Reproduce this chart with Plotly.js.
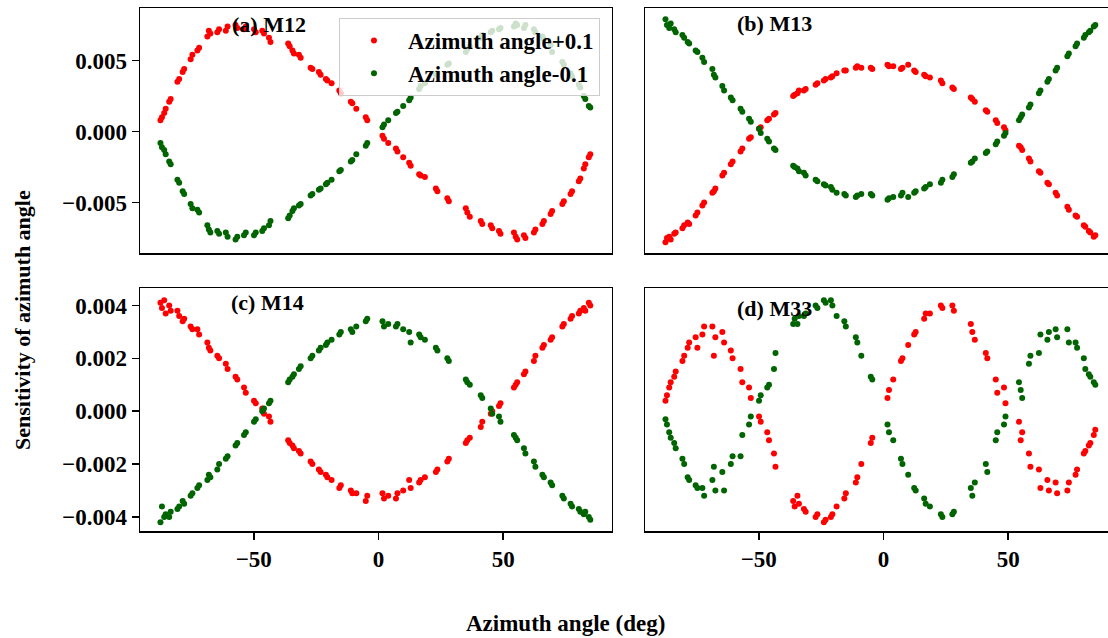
<!DOCTYPE html>
<html>
<head>
<meta charset="utf-8">
<script src="https://cdn.plot.ly/plotly-3.0.1.min.js"></script>
<style>
html, body { margin: 0; padding: 0; overflow: hidden; background: #ffffff; }
#chart { width: 1120px; height: 638px; }
</style>
</head>
<body>
<div id="chart"></div>
<script>
// Azimuth angle samples (deg), shared by all panels
const azimuth = [
  -87.4,-86.8,-85.9,-85.3,-83.9,-83.3,-80.6,-79.9,-78.5,-77.9,-75.3,-74.6,
  -72.6,-71.9,-68.6,-68.0,-67.4,-64.6,-63.9,-61.2,-60.5,-57.3,-56.6,-53.9,
  -53.2,-49.9,-49.2,-46.6,-45.9,-43.9,-43.3,-36.2,-35.6,-34.5,-33.9,-31.9,
  -31.2,-27.2,-26.5,-23.9,-23.2,-21.1,-20.5,-18.8,-15.7,-15.1,-11.1,-10.5,
  -8.9,-5.1,-4.5,1.6,2.2,3.9,7.0,7.6,9.9,12.3,12.9,16.3,
  16.9,18.6,23.0,23.6,27.6,28.2,35.0,35.6,36.6,41.0,41.6,45.0,
  45.6,48.3,48.9,54.3,55.0,55.6,58.3,58.9,62.3,62.9,65.7,66.3,
  69.0,69.6,73.7,74.3,77.0,77.6,80.3,80.9,82.3,82.9,84.3,84.9
];

// (a) M12
const m12_plus = [
  0.0008,0.0010,0.0013,0.0016,0.0021,0.0023,0.0035,0.0037,0.0042,0.0044,0.0051,0.0054,
  0.0057,0.0059,0.0067,0.0071,0.0069,0.0070,0.0072,0.0071,0.0074,0.0075,0.0073,0.0072,
  0.0074,0.0072,0.0070,0.0071,0.0069,0.0066,0.0063,0.0062,0.0060,0.0057,0.0055,0.0054,
  0.0052,0.0045,0.0044,0.0042,0.0040,0.0037,0.0036,0.0034,0.0029,0.0027,0.0021,0.0020,
  0.0016,0.0010,0.0008,-0.0003,-0.0005,-0.0008,-0.0012,-0.0014,-0.0018,-0.0022,-0.0024,-0.0030,
  -0.0031,-0.0032,-0.0040,-0.0042,-0.0047,-0.0049,-0.0054,-0.0057,-0.0060,-0.0063,-0.0065,-0.0066,
  -0.0068,-0.0070,-0.0072,-0.0071,-0.0074,-0.0076,-0.0073,-0.0075,-0.0071,-0.0069,-0.0065,-0.0063,
  -0.0058,-0.0056,-0.0051,-0.0049,-0.0044,-0.0042,-0.0035,-0.0033,-0.0026,-0.0023,-0.0018,-0.0016
];
const m12_minus = [
  -0.0008,-0.0011,-0.0013,-0.0016,-0.0021,-0.0023,-0.0034,-0.0036,-0.0042,-0.0044,-0.0051,-0.0054,
  -0.0055,-0.0057,-0.0066,-0.0069,-0.0071,-0.0070,-0.0072,-0.0071,-0.0074,-0.0076,-0.0074,-0.0073,
  -0.0071,-0.0073,-0.0071,-0.0070,-0.0068,-0.0066,-0.0063,-0.0061,-0.0059,-0.0056,-0.0054,-0.0052,
  -0.0051,-0.0045,-0.0044,-0.0041,-0.0040,-0.0037,-0.0036,-0.0034,-0.0028,-0.0027,-0.0021,-0.0020,
  -0.0016,-0.0010,-0.0008,0.0003,0.0005,0.0008,0.0013,0.0014,0.0018,0.0022,0.0024,0.0030,
  0.0032,0.0034,0.0040,0.0041,0.0047,0.0048,0.0056,0.0058,0.0060,0.0066,0.0068,0.0070,
  0.0071,0.0072,0.0073,0.0074,0.0076,0.0075,0.0073,0.0075,0.0072,0.0070,0.0067,0.0065,
  0.0061,0.0056,0.0049,0.0047,0.0041,0.0039,0.0033,0.0031,0.0025,0.0023,0.0018,0.0017
];

// (b) M13
const m13_plus = [
  -0.0078,-0.0075,-0.0074,-0.0076,-0.0072,-0.0071,-0.0068,-0.0066,-0.0064,-0.0065,-0.0059,-0.0057,
  -0.0052,-0.0050,-0.0043,-0.0042,-0.0040,-0.0031,-0.0029,-0.0023,-0.0021,-0.0014,-0.0012,-0.0005,
  -0.0004,0.0002,0.0003,0.0008,0.0009,0.0012,0.0013,0.0025,0.0026,0.0027,0.0029,0.0029,
  0.0030,0.0033,0.0034,0.0036,0.0037,0.0038,0.0039,0.0041,0.0043,0.0043,0.0045,0.0046,
  0.0045,0.0045,0.0044,0.0047,0.0046,0.0046,0.0044,0.0045,0.0047,0.0043,0.0042,0.0040,
  0.0039,0.0038,0.0036,0.0034,0.0031,0.0030,0.0024,0.0023,0.0021,0.0015,0.0014,0.0008,
  0.0006,0.0003,0.0001,-0.0010,-0.0011,-0.0013,-0.0019,-0.0021,-0.0028,-0.0029,-0.0036,-0.0037,
  -0.0043,-0.0045,-0.0053,-0.0055,-0.0059,-0.0060,-0.0066,-0.0067,-0.0070,-0.0071,-0.0074,-0.0073
];
const m13_minus = [
  0.0079,0.0075,0.0073,0.0076,0.0072,0.0070,0.0068,0.0066,0.0063,0.0062,0.0057,0.0056,
  0.0052,0.0049,0.0044,0.0040,0.0038,0.0032,0.0029,0.0024,0.0022,0.0016,0.0014,0.0009,
  0.0007,0.0002,-0.0001,-0.0005,-0.0007,-0.0012,-0.0013,-0.0024,-0.0025,-0.0026,-0.0028,-0.0029,
  -0.0031,-0.0034,-0.0035,-0.0037,-0.0038,-0.0039,-0.0041,-0.0043,-0.0044,-0.0045,-0.0046,-0.0045,
  -0.0044,-0.0044,-0.0045,-0.0048,-0.0047,-0.0046,-0.0045,-0.0043,-0.0046,-0.0043,-0.0042,-0.0040,
  -0.0039,-0.0037,-0.0036,-0.0034,-0.0032,-0.0030,-0.0022,-0.0021,-0.0019,-0.0015,-0.0014,-0.0009,
  -0.0007,-0.0003,-0.0001,0.0008,0.0010,0.0012,0.0017,0.0019,0.0027,0.0029,0.0035,0.0037,
  0.0043,0.0045,0.0053,0.0055,0.0060,0.0062,0.0066,0.0068,0.0070,0.0071,0.0074,0.0075
];

// (c) M14
const m14_plus = [
  0.0041,0.0039,0.0042,0.0037,0.0040,0.0038,0.0038,0.0036,0.0034,0.0035,0.0032,0.0031,
  0.0031,0.0029,0.0026,0.0024,0.0023,0.0021,0.0020,0.0018,0.0016,0.0013,0.0012,0.0009,
  0.0007,0.0004,0.0003,0.0001,-0.0001,-0.0002,-0.0004,-0.0011,-0.0012,-0.0013,-0.0014,-0.0015,
  -0.0016,-0.0019,-0.0020,-0.0022,-0.0023,-0.0024,-0.0025,-0.0026,-0.0029,-0.0028,-0.0030,-0.0031,
  -0.0031,-0.0034,-0.0032,-0.0031,-0.0033,-0.0032,-0.0033,-0.0031,-0.0030,-0.0026,-0.0029,-0.0027,
  -0.0026,-0.0025,-0.0023,-0.0022,-0.0019,-0.0018,-0.0012,-0.0011,-0.0010,-0.0006,-0.0004,-0.0001,
  0.0000,0.0002,0.0003,0.0009,0.0010,0.0011,0.0014,0.0015,0.0019,0.0021,0.0024,0.0025,
  0.0027,0.0028,0.0032,0.0033,0.0035,0.0036,0.0037,0.0038,0.0039,0.0038,0.0041,0.0040
];
const m14_minus = [
  -0.0042,-0.0036,-0.0040,-0.0039,-0.0040,-0.0038,-0.0037,-0.0036,-0.0034,-0.0035,-0.0032,-0.0031,
  -0.0029,-0.0028,-0.0026,-0.0024,-0.0025,-0.0022,-0.0020,-0.0018,-0.0017,-0.0013,-0.0012,-0.0009,
  -0.0008,-0.0004,-0.0003,0.0000,0.0001,0.0003,0.0004,0.0011,0.0012,0.0013,0.0014,0.0016,
  0.0017,0.0020,0.0021,0.0023,0.0024,0.0025,0.0026,0.0027,0.0029,0.0030,0.0031,0.0030,
  0.0032,0.0034,0.0035,0.0034,0.0032,0.0033,0.0032,0.0033,0.0031,0.0030,0.0026,0.0029,
  0.0028,0.0027,0.0024,0.0023,0.0020,0.0019,0.0012,0.0011,0.0010,0.0006,0.0005,0.0001,
  -0.0001,-0.0002,-0.0004,-0.0009,-0.0010,-0.0011,-0.0014,-0.0016,-0.0019,-0.0021,-0.0024,-0.0025,
  -0.0027,-0.0028,-0.0032,-0.0033,-0.0035,-0.0036,-0.0037,-0.0038,-0.0039,-0.0038,-0.0040,-0.0041
];

// (d) M33
const m33_plus = [
  0.0004,0.0006,0.0009,0.0011,0.0013,0.0015,0.0019,0.0021,0.0024,0.0026,0.0028,0.0024,
  0.0029,0.0032,0.0032,0.0021,0.0028,0.0030,0.0026,0.0023,0.0020,0.0016,0.0011,0.0009,
  0.0005,-0.0002,-0.0004,-0.0008,-0.0011,-0.0016,-0.0021,-0.0034,-0.0036,-0.0032,-0.0035,-0.0037,
  -0.0038,-0.0040,-0.0039,-0.0042,-0.0041,-0.0040,-0.0039,-0.0036,-0.0033,-0.0031,-0.0027,-0.0025,
  -0.0020,-0.0012,-0.0010,0.0005,0.0008,0.0012,0.0019,0.0020,0.0025,0.0029,0.0030,0.0035,
  0.0037,0.0037,0.0040,0.0039,0.0040,0.0038,0.0033,0.0030,0.0027,0.0022,0.0020,0.0012,
  0.0007,0.0009,0.0003,-0.0004,-0.0011,-0.0008,-0.0016,-0.0021,-0.0022,-0.0029,-0.0026,-0.0030,
  -0.0027,-0.0031,-0.0030,-0.0027,-0.0024,-0.0022,-0.0016,-0.0015,-0.0013,-0.0012,-0.0009,-0.0007
];
const m33_minus = [
  -0.0003,-0.0005,-0.0008,-0.0010,-0.0012,-0.0014,-0.0018,-0.0020,-0.0025,-0.0026,-0.0028,-0.0029,
  -0.0029,-0.0032,-0.0026,-0.0021,-0.0030,-0.0023,-0.0030,-0.0020,-0.0017,-0.0017,-0.0009,-0.0005,
  -0.0002,0.0004,0.0006,0.0009,0.0010,0.0016,0.0022,0.0033,0.0035,0.0033,0.0036,0.0036,
  0.0037,0.0040,0.0039,0.0042,0.0041,0.0042,0.0040,0.0036,0.0034,0.0032,0.0028,0.0026,
  0.0021,0.0013,0.0012,-0.0005,-0.0008,-0.0011,-0.0018,-0.0020,-0.0024,-0.0029,-0.0030,-0.0033,
  -0.0035,-0.0036,-0.0039,-0.0040,-0.0039,-0.0038,-0.0029,-0.0032,-0.0027,-0.0020,-0.0023,-0.0011,
  -0.0008,-0.0005,-0.0002,0.0011,0.0008,0.0005,0.0018,0.0021,0.0022,0.0029,0.0027,0.0030,
  0.0031,0.0028,0.0031,0.0026,0.0026,0.0024,0.0020,0.0016,0.0014,0.0013,0.0011,0.0010
];

const panelTitles = ["(a) M12", "(b) M13", "(c) M14", "(d) M33"];
const seriesNames = ["Azimuth angle+0.1", "Azimuth angle-0.1"];
const xTickVals = [-50, 0, 50];
const xTickText = ["\u221250", "0", "50"];
const yTopTickVals = [-0.005, 0, 0.005];
const yTopTickText = ["\u22120.005", "0.000", "0.005"];
const yBotTickVals = [-0.004, -0.002, 0, 0.002, 0.004];
const yBotTickText = ["\u22120.004", "\u22120.002", "0.000", "0.002", "0.004"];

const panels = [
  {plus: m12_plus, minus: m12_minus},
  {plus: m13_plus, minus: m13_minus},
  {plus: m14_plus, minus: m14_minus},
  {plus: m33_plus, minus: m33_minus}
];

const RED = "#ff0000", GREEN = "#006400";
const FONT = "Liberation Serif";

const traces = [];
panels.forEach((p, i) => {
  const sfx = i === 0 ? "" : String(i + 1);
  traces.push({
    type: "scatter", mode: "markers", x: azimuth, y: p.plus,
    xaxis: "x" + sfx, yaxis: "y" + sfx,
    name: seriesNames[0], showlegend: i === 0,
    marker: {color: RED, size: 6}, hoverinfo: "skip"
  });
  traces.push({
    type: "scatter", mode: "markers", x: azimuth, y: p.minus,
    xaxis: "x" + sfx, yaxis: "y" + sfx,
    name: seriesNames[1], showlegend: i === 0,
    marker: {color: GREEN, size: 6}, hoverinfo: "skip"
  });
});

const tickFont = {family: FONT, size: 23, color: "#000", weight: "bold"};
const xRange = [-95.6, 93.6];
const yTopRange = [-0.00855, 0.0087];
const yBotRange = [-0.00453, 0.00466];

function xAxis(domain, anchor, showLabels) {
  return {
    domain: domain, anchor: anchor, range: xRange, showgrid: false, zeroline: false,
    showline: true, mirror: true, linecolor: "#000", linewidth: 1.5,
    ticks: showLabels ? "outside" : "", ticklen: 7, tickwidth: 1.5, tickcolor: "#000",
    tickvals: xTickVals, ticktext: xTickText, showticklabels: showLabels,
    tickfont: tickFont
  };
}
function yAxis(domain, anchor, range, vals, text, showLabels) {
  return {
    domain: domain, anchor: anchor, range: range, showgrid: false, zeroline: false,
    showline: true, mirror: true, linecolor: "#000", linewidth: 1.5,
    ticks: showLabels ? "outside" : "", ticklen: 7, tickwidth: 1.5, tickcolor: "#000",
    tickvals: vals, ticktext: text, showticklabels: showLabels,
    tickfont: tickFont
  };
}

const colL = [0, 0.4831], colR = [0.5169, 1];
const rowT = [0.5315, 1], rowB = [0, 0.4646];

const titleFont = {family: FONT, size: 22, color: "#000", weight: "bold"};
const annPos = [[0.132, 0.9675], [0.649, 0.971], [0.131, 0.436], [0.649, 0.426]];
const annotations = panelTitles.map((t, i) => ({
  text: t, xref: "paper", yref: "paper", x: annPos[i][0], y: annPos[i][1],
  xanchor: "center", yanchor: "middle", showarrow: false, font: titleFont
}));
annotations.push({
  text: "Sensitivity of azimuth angle", xref: "paper", yref: "paper",
  x: -0.1208, y: 0.4034, textangle: -90, xanchor: "center", yanchor: "middle",
  showarrow: false, font: titleFont
});
annotations.push({
  text: "Azimuth angle (deg)", xref: "paper", yref: "paper",
  x: 0.436, y: -0.176, xanchor: "center", yanchor: "middle",
  showarrow: false, font: {family: FONT, size: 23, color: "#000", weight: "bold"}
});

const layout = {
  width: 1120, height: 638,
  margin: {l: 140, r: 3, t: 8, b: 107},
  paper_bgcolor: "#ffffff", plot_bgcolor: "#ffffff",
  font: {family: FONT, color: "#000"},
  xaxis: xAxis(colL, "y", false),
  yaxis: yAxis(rowT, "x", yTopRange, yTopTickVals, yTopTickText, true),
  xaxis2: xAxis(colR, "y2", false),
  yaxis2: yAxis(rowT, "x2", yTopRange, yTopTickVals, yTopTickText, false),
  xaxis3: xAxis(colL, "y3", true),
  yaxis3: yAxis(rowB, "x3", yBotRange, yBotTickVals, yBotTickText, true),
  xaxis4: xAxis(colR, "y4", true),
  yaxis4: yAxis(rowB, "x4", yBotRange, yBotTickVals, yBotTickText, false),
  showlegend: true,
  legend: {
    x: 0.4708, y: 0.981, xanchor: "right", yanchor: "top",
    bgcolor: "rgba(255,255,255,0.8)", bordercolor: "#cccccc", borderwidth: 1,
    font: {family: FONT, size: 23, color: "#000", weight: "bold"},
    itemwidth: 58, traceorder: "normal", tracegroupgap: 0
  },
  annotations: annotations,
  hovermode: false
};

Plotly.newPlot("chart", traces, layout, {staticPlot: true, displayModeBar: false});
</script>
</body>
</html>
